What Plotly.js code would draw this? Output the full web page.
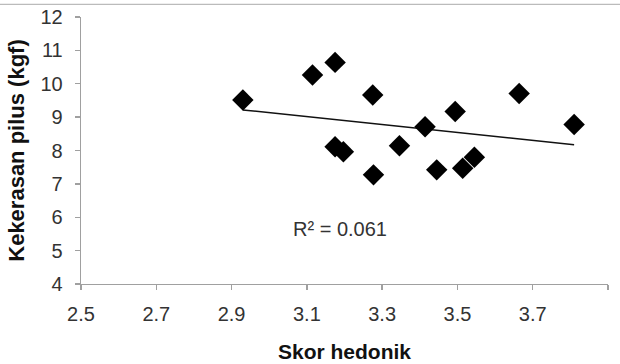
<!DOCTYPE html>
<html>
<head>
<meta charset="utf-8">
<script src="https://cdn.plot.ly/plotly-3.0.1.min.js"></script>
<style>html,body{margin:0;padding:0;background:#fff;}#chart{width:620px;height:364px;}</style>
</head>
<body>
<div id="chart"></div>
<script>
// Skor hedonik (x) vs Kekerasan pilus (kgf) (y)
var skorHedonik = [2.93, 3.115, 3.175, 3.275, 3.664, 3.494, 3.414, 3.81, 3.175, 3.197, 3.346, 3.277, 3.445, 3.514, 3.545];
var kekerasanPilus = [9.51, 10.26, 10.64, 9.66, 9.71, 9.17, 8.71, 8.78, 8.11, 7.96, 8.14, 7.27, 7.42, 7.47, 7.80];
var xTicks = [2.5, 2.7, 2.9, 3.1, 3.3, 3.5, 3.7, 3.9];
var yTicks = [4, 5, 6, 7, 8, 9, 10, 11, 12];
var r2Label = "R² = 0.061";

// least-squares trendline
var n = skorHedonik.length, mx = 0, my = 0;
for (var i = 0; i < n; i++) { mx += skorHedonik[i]; my += kekerasanPilus[i]; }
mx /= n; my /= n;
var sxy = 0, sxx = 0;
for (var i = 0; i < n; i++) { sxy += (skorHedonik[i]-mx)*(kekerasanPilus[i]-my); sxx += (skorHedonik[i]-mx)*(skorHedonik[i]-mx); }
var slope = sxy / sxx, icpt = my - slope * mx;
var xMin = Math.min.apply(null, skorHedonik), xMax = Math.max.apply(null, skorHedonik);

var font = "Liberation Sans, Arial, Helvetica, sans-serif";
var data = [
  {x: [xMin, xMax], y: [icpt + slope*xMin, icpt + slope*xMax], mode: 'lines', type: 'scatter',
   line: {color: '#111', width: 1.5}, hoverinfo: 'skip'},
  {x: skorHedonik, y: kekerasanPilus, mode: 'markers', type: 'scatter',
   marker: {symbol: 'diamond', size: 16.5, color: '#000', line: {width: 0}}}
];
var layout = {
  width: 620, height: 364,
  margin: {l: 81, r: 12, t: 17, b: 80},
  showlegend: false,
  paper_bgcolor: '#fff', plot_bgcolor: '#fff',
  font: {family: font, color: '#333', size: 20},
  xaxis: {range: [2.5, 3.9], tickvals: xTicks, ticktext: xTicks.map(function(v){return v.toFixed(1);}),
    showgrid: false, zeroline: false, showline: true, linecolor: '#a0a0a0', linewidth: 1.3,
    ticks: 'outside', ticklen: 5, tickcolor: '#a0a0a0', tickwidth: 1.3,
    tickfont: {family: font, size: 20, color: '#333'}, ticklabelstandoff: 7,
    title: {text: 'Skor hedonik', font: {family: font, size: 21, color: '#111', weight: 'bold'}, standoff: 20},
    automargin: false, fixedrange: true},
  yaxis: {range: [4, 12], tickvals: yTicks,
    showgrid: false, zeroline: false, showline: true, linecolor: '#a0a0a0', linewidth: 1.3,
    ticks: 'outside', ticklen: 5, tickcolor: '#a0a0a0', tickwidth: 1.3,
    tickfont: {family: font, size: 20, color: '#333'}, ticklabelstandoff: 8,
    title: {text: 'Kekerasan pilus (kgf)', font: {family: font, size: 22, color: '#111', weight: 'bold'}, standoff: 9},
    automargin: false, fixedrange: true},
  annotations: [{x: 3.187, y: 5.66, xref: 'x', yref: 'y', text: r2Label, showarrow: false,
    font: {family: font, size: 20, color: '#333'}}],
  shapes: [{type: 'line', xref: 'paper', yref: 'paper', x0: -0.16, x1: 1.03, y0: 1.0475, y1: 1.0475,
    line: {color: '#bbbbbb', width: 1.3}}]
};
Plotly.newPlot('chart', data, layout, {displayModeBar: false, staticPlot: true});
</script>
</body>
</html>
